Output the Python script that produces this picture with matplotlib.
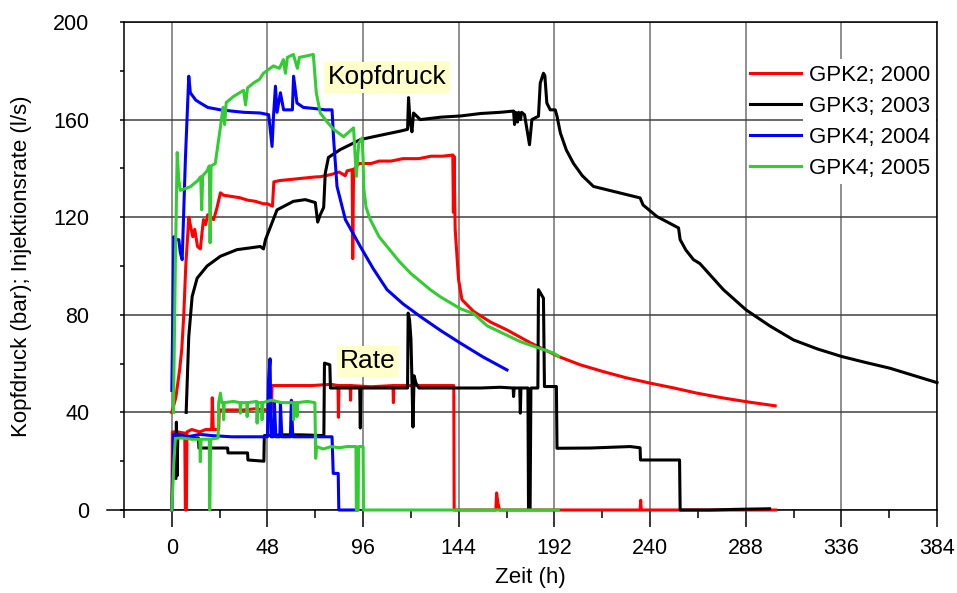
import matplotlib
matplotlib.use("Agg")
import matplotlib.pyplot as plt
from matplotlib.ticker import FixedLocator
from matplotlib.lines import Line2D

plt.rcParams['font.family'] = ['Liberation Sans', 'DejaVu Sans']

# ---------------------------------------------------------------------------
# Wellhead pressure (bar) and injection rate (l/s) versus time (h)
# each series is a list of (time, value) pairs
# ---------------------------------------------------------------------------
gpk2_pressure = [
    (0, 40), (1, 43), (2, 46), (3, 52), (4, 58), (5, 66), (6, 80), (7, 100),
    (8, 113), (8.5, 120), (9.5, 116), (10.5, 112), (11.5, 115), (12.9, 108),
    (14.3, 107), (15.2, 114), (15.9, 119), (17, 117), (18, 121), (19.4, 120),
    (21, 119), (22.7, 124), (24.4, 130), (26, 129), (30, 128.5), (34, 128),
    (38, 127), (42, 126.5), (46, 125.5), (48, 125.5), (50.5, 124.5),
    (51.2, 134.5), (54, 135), (60, 135.5), (66, 136), (72, 136.5),
    (74.5, 136.6), (80, 137.5), (84, 138.5), (87, 137), (88, 139),
    (90.5, 139.5), (90.8, 103), (91.2, 139.5), (94, 142), (100, 142),
    (104, 143), (110, 143), (116, 144), (124, 144), (130, 145), (136, 145),
    (141, 145.5), (141.3, 122), (141.6, 145), (142.2, 115), (143.9, 94.4),
    (145.6, 86.2), (151.4, 81.4), (160, 77), (168.2, 73.8), (180, 68.5),
    (194.1, 62.9), (205, 59.5), (216.6, 56.7), (228, 54.2), (240, 52),
    (252, 50), (263.5, 47.9), (276, 46), (288.2, 44.4), (302.8, 42.7),
]
gpk2_rate = [
    (0, 0), (0.3, 32), (3, 32), (6.5, 31.5), (6.8, 0), (7.3, 0), (7.6, 32),
    (10, 33), (14, 32), (17, 33), (20, 33), (20.3, 46), (20.8, 33),
    (23.5, 33), (23.8, 41), (30, 41), (36, 41), (42, 41.5), (48, 41),
    (50, 41), (50.3, 51), (60, 51), (70, 51), (80, 51.5), (83.4, 51),
    (83.6, 38), (83.9, 51), (89.5, 51), (89.7, 45), (89.9, 51), (100, 50.5),
    (111, 51), (111.2, 44), (111.4, 51), (120, 51), (130, 51), (141.5, 51),
    (141.7, 0), (162.6, 0), (163, 7), (163.6, 3), (164.5, 0), (235, 0),
    (235.3, 4), (235.6, 0), (303, 0),
]

gpk3_pressure = [
    (7.2, 40), (8.5, 71), (10.2, 87.5), (12.7, 95), (17.7, 100), (24.4, 104),
    (32.7, 106.7), (40, 107.5), (44.4, 108), (46, 107), (47, 110.8),
    (52.8, 123), (61, 126.5), (67, 127.2), (72, 126), (73.2, 118),
    (74.5, 121), (76.2, 124), (77, 138), (78.6, 144.5), (84.5, 147.7),
    (91.2, 150.4), (94.6, 151.8), (101.3, 153), (114.7, 155.3), (118.3, 156),
    (118.8, 169), (119.5, 160), (120.5, 155), (121.3, 162.7), (124.7, 160),
    (135, 161), (145, 161.5), (155, 162.5), (165, 163), (171.5, 163.5),
    (172, 158), (172.5, 163), (173.5, 159), (174, 163), (175, 160),
    (175.5, 163), (177, 162), (179.5, 149.7), (180.7, 160), (184, 161.4),
    (184.9, 175), (186.5, 179), (187.2, 178), (188.2, 166.8), (189.9, 164),
    (192.4, 164), (193.3, 161.4), (195, 154.5), (198, 147.5), (201.6, 142),
    (206, 137), (211.6, 132.6), (235, 127.9), (236.5, 125), (243.4, 120.3),
    (254.3, 115.6), (255.1, 110.8), (258, 106.5), (261.8, 102.6), (265, 101),
    (276.8, 90.3), (288.2, 82), (300, 75.5), (312, 69.7), (324, 66),
    (336.2, 62.9), (348, 60.5), (360.4, 58.1), (372, 55.2), (384, 52.2),
]
gpk3_rate = [
    (2, 13), (2.3, 36), (2.6, 14), (3, 30), (6, 30), (10, 29.5), (13.4, 29.5),
    (13.6, 25.4), (28, 25.4), (28.2, 23.4), (38, 23.4), (38.2, 20.5),
    (46.2, 20), (46.4, 30.5), (55, 30.8), (65, 30.8), (76.3, 30.5),
    (76.6, 60.2), (79.3, 59.5), (79.6, 50), (94.3, 50), (94.6, 33.6),
    (94.9, 50), (110, 50), (118.3, 50), (118.6, 80.7), (119.3, 78),
    (120, 70), (120.6, 50), (121, 34), (121.6, 55), (122.5, 52), (124, 50),
    (140, 50), (155, 50), (164.8, 50.3), (171.3, 50), (171.5, 46.5),
    (171.8, 50), (174.6, 50), (174.9, 39.7), (175.2, 50), (178.7, 50),
    (179, 0.5), (179.8, 0.5), (180.2, 50), (183.7, 50), (184, 90.3),
    (186.5, 86.8), (187, 50.6), (193, 50.6), (193.3, 25.3), (210, 25.4),
    (230, 26), (235, 25.5), (235.2, 20.5), (254.8, 20.5), (255.1, 0),
    (270, 0), (285, 0.3), (300, 0.5),
]

gpk4_2004_pressure = [
    (0, 49), (0.5, 80), (1, 112), (1.8, 110.8), (3.5, 110.8), (4.3, 105.3),
    (5.2, 102.6), (6.8, 143.6), (8.5, 177.8), (9.3, 171), (12, 168),
    (14.3, 166.8), (18, 165), (24.4, 164), (30, 163.5), (36, 163),
    (44.4, 162.7), (48.6, 162), (50.3, 149), (51, 161), (52, 173.7),
    (52.8, 163), (54.5, 171), (56.1, 164), (60.5, 164), (61.1, 177.8),
    (62.8, 166.8), (66, 165), (72, 164.5), (77, 164), (80.4, 164),
    (81.2, 152), (82.9, 132.6), (87.1, 119), (94.6, 108), (101, 99),
    (108, 90.3), (116, 84.5), (124.7, 79.3), (135, 73.5), (144.8, 68.4),
    (156, 62.8), (168.2, 57.4),
]
gpk4_2004_rate = [
    (0, 0), (0.2, 7), (0.5, 16), (0.8, 31), (3, 31), (8, 30), (14, 31),
    (20, 30.5), (30, 30), (40, 30), (48, 30), (48.5, 53), (49.3, 62),
    (49.8, 30), (51, 30), (51.5, 44), (52.2, 30), (54.2, 30), (54.5, 44),
    (55.2, 30), (59.5, 30), (60, 45), (60.7, 30), (70, 30), (80.4, 30),
    (81, 15), (83.5, 15), (83.8, 0), (93, 0),
]

gpk4_2005_pressure = [
    (0.8, 40), (1.8, 102.6), (2.7, 146.5), (3.5, 135), (4.3, 131),
    (9.3, 132.5), (13, 135), (14.5, 136.6), (15, 123), (15.5, 137),
    (17.7, 139), (18.8, 141), (19.2, 109.5), (19.7, 141), (21.8, 142),
    (24.4, 157), (25.7, 165), (26.5, 158), (27.3, 167), (31, 169.5),
    (36, 172), (37, 166), (38, 173), (41, 175), (44, 176.5), (46, 179),
    (51, 182), (54, 181), (56, 184.6), (57, 179), (58, 185.5), (61, 186.7),
    (63, 181), (64, 185.5), (67, 186), (71, 186.7), (72.5, 171),
    (74.5, 162.7), (78, 159), (81.2, 156), (86.2, 153), (91.2, 156.6),
    (92.6, 136.7), (93.8, 150.4), (95.5, 152.5), (96, 143.6), (96.3, 132),
    (97.5, 124), (99.6, 119), (104, 112), (108, 108), (114, 102),
    (119.7, 97.1), (129.7, 90.3), (134.7, 87.4), (144.8, 82.5),
    (151.4, 80.5), (158.2, 75.5), (174.9, 69), (191.6, 64.3), (194.1, 63),
]
gpk4_2005_rate = [
    (0, 0), (1, 19), (1.8, 29.4), (5, 29.5), (10, 29), (14, 29), (14.3, 19.8),
    (14.7, 29), (18.8, 29), (19, 0), (19.5, 29), (23.2, 29.5), (23.5, 44),
    (24.4, 47.9), (25, 44), (25.8, 44), (26, 37), (26.3, 44), (31, 44.5),
    (34.2, 44), (34.4, 39.7), (34.7, 44), (37.6, 44), (37.8, 38.3),
    (38.1, 44), (42.6, 44.5), (42.8, 35.6), (43.1, 44), (45.1, 44),
    (45.3, 37), (45.6, 44), (50, 45), (55, 44), (61, 44), (61.1, 37),
    (61.4, 44), (62.6, 44), (62.8, 38.3), (63.1, 44), (68, 44.5),
    (71.8, 44), (72.2, 21.2), (72.6, 26), (76, 25), (80, 26), (84, 25.5),
    (88, 26), (92.4, 26), (92.6, 0), (93.5, 0), (93.7, 26), (96, 26),
    (96.2, 0), (194, 0),
]

labels = ["GPK2; 2000", "GPK3; 2003", "GPK4; 2004", "GPK4; 2005"]
colors = ["#ff0000", "#000000", "#0000ff", "#33cc33"]
pressures = [gpk2_pressure, gpk3_pressure, gpk4_2004_pressure, gpk4_2005_pressure]
rates = [gpk2_rate, gpk3_rate, gpk4_2004_rate, gpk4_2005_rate]

x_major = [0, 48, 96, 144, 192, 240, 288, 336, 384]
x_minor = [-24, 24, 72, 120, 168, 216, 264, 312, 360]
y_major = [0, 40, 80, 120, 160, 200]
y_minor = [20, 60, 100, 140, 180]

fig = plt.figure(figsize=(9.57, 5.93), dpi=100)
ax = fig.add_axes([124 / 957, 1 - 510 / 593, 813 / 957, 488 / 593])

for lab, col, pres, rate in zip(labels, colors, pressures, rates):
    pt, pv = zip(*pres)
    rt, rv = zip(*rate)
    ax.plot(pt, pv, color=col, lw=2.2, label=lab, zorder=3, clip_on=False,
            solid_joinstyle='round')
    ax.plot(rt, rv, color=col, lw=2.2, zorder=3, clip_on=False,
            solid_joinstyle='round')

ax.set_xlim(-24, 384)
ax.set_ylim(0, 200)
ax.xaxis.set_major_locator(FixedLocator(x_major))
ax.xaxis.set_minor_locator(FixedLocator(x_minor))
ax.yaxis.set_major_locator(FixedLocator(y_major))
ax.yaxis.set_minor_locator(FixedLocator(y_minor))

ax.set_axisbelow(True)
ax.xaxis.grid(True, which='major', color='#707070', lw=1.1)
ax.yaxis.grid(True, which='major', color='#404040', lw=1.1)

for sp in ax.spines.values():
    sp.set_color('black')
    sp.set_linewidth(1.1)

ax.tick_params(axis='x', which='major', direction='out', length=12, width=1.1,
               labelsize=15.5, pad=8)
ax.tick_params(axis='x', which='minor', direction='out', length=6, width=1.1)
ax.tick_params(axis='y', which='both', direction='out', length=3, width=1.1,
               labelsize=15.5, pad=22)

# the zero line of the time axis runs a little past the left frame
ax.add_line(Line2D([-0.021, 0], [0, 0], transform=ax.transAxes, color='black',
                   lw=1.1, clip_on=False))

ax.set_xlabel('Zeit (h)', fontsize=16)
ax.xaxis.set_label_coords(0.5, (510 - 578) / 488)
ax.xaxis.label.set_va('center')
ax.set_ylabel('Kopfdruck (bar); Injektionsrate (l/s)', fontsize=16)
ax.yaxis.set_label_coords((22 - 124) / 813, 0.5)
ax.yaxis.label.set_va('center')

box = dict(facecolor='#ffffcc', edgecolor='none', pad=2.5)
ax.text(108, 177.4, 'Kopfdruck', fontsize=19, ha='center', va='center',
        bbox=box, zorder=4)
ax.text(98.4, 60.9, 'Rate', fontsize=19, ha='center', va='center',
        bbox=box, zorder=4)

leg = ax.legend(loc='upper left', bbox_to_anchor=(0.770, 0.912), frameon=False,
                fontsize=16, handlelength=2.4, handletextpad=0.25,
                labelspacing=0.45, borderpad=0, borderaxespad=0)
for txt in leg.get_texts():
    txt.set_bbox(dict(facecolor='white', edgecolor='none', pad=4))

fig.savefig('out.png', dpi=100)
